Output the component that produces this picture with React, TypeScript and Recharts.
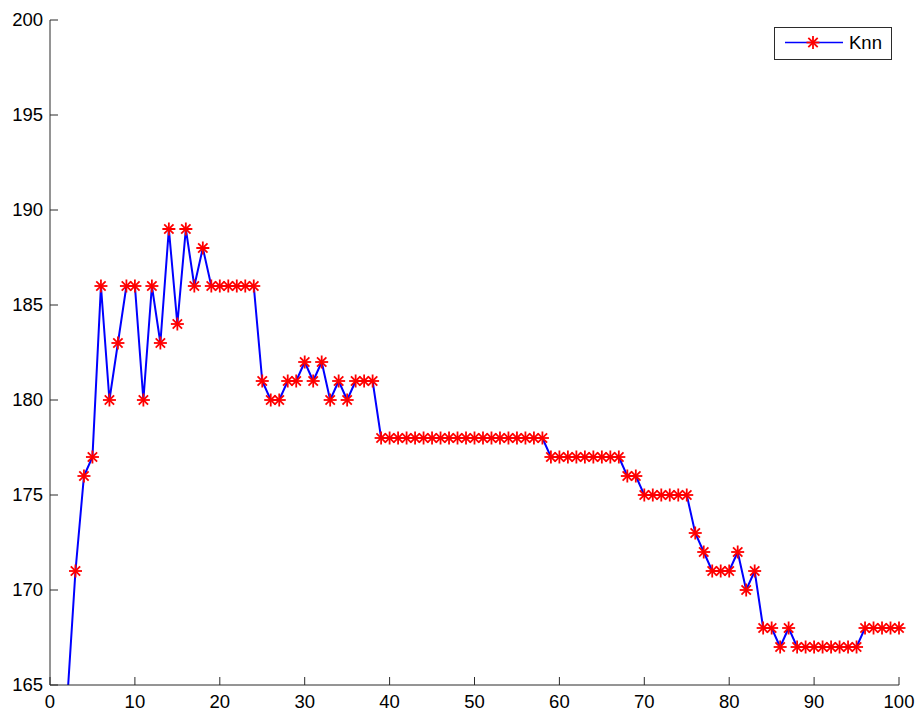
import { LineChart, Line, XAxis, YAxis } from 'recharts';

// k values (neighbours) and scores
const kValues = [
  2, 3, 4, 5, 6, 7, 8, 9, 10,
  11, 12, 13, 14, 15, 16, 17, 18, 19, 20,
  21, 22, 23, 24, 25, 26, 27, 28, 29, 30,
  31, 32, 33, 34, 35, 36, 37, 38, 39, 40,
  41, 42, 43, 44, 45, 46, 47, 48, 49, 50,
  51, 52, 53, 54, 55, 56, 57, 58, 59, 60,
  61, 62, 63, 64, 65, 66, 67, 68, 69, 70,
  71, 72, 73, 74, 75, 76, 77, 78, 79, 80,
  81, 82, 83, 84, 85, 86, 87, 88, 89, 90,
  91, 92, 93, 94, 95, 96, 97, 98, 99, 100,
];
const knnScores = [
  164, 171, 176, 177, 186, 180, 183, 186, 186,
  180, 186, 183, 189, 184, 189, 186, 188, 186, 186,
  186, 186, 186, 186, 181, 180, 180, 181, 181, 182,
  181, 182, 180, 181, 180, 181, 181, 181, 178, 178,
  178, 178, 178, 178, 178, 178, 178, 178, 178, 178,
  178, 178, 178, 178, 178, 178, 178, 178, 177, 177,
  177, 177, 177, 177, 177, 177, 177, 176, 176, 175,
  175, 175, 175, 175, 175, 173, 172, 171, 171, 171,
  172, 170, 171, 168, 168, 167, 168, 167, 167, 167,
  167, 167, 167, 167, 167, 168, 168, 168, 168, 168,
];
const xTicks = [0, 10, 20, 30, 40, 50, 60, 70, 80, 90, 100];
const yTicks = [165, 170, 175, 180, 185, 190, 195, 200];

const data = kValues.map((k, i) => ({ k, score: knnScores[i] }));

const FONT = '"Liberation Sans", Arial, sans-serif';
const AXIS = '#2b2b2b';

function Star({ cx, cy, r = 6.5 }: { cx: number; cy: number; r?: number }) {
  const d = r * 0.72;
  return (
    <g stroke="#ff0000" strokeWidth={1.8}>
      <line x1={cx - r} y1={cy} x2={cx + r} y2={cy} />
      <line x1={cx} y1={cy - r} x2={cx} y2={cy + r} />
      <line x1={cx - d} y1={cy - d} x2={cx + d} y2={cy + d} />
      <line x1={cx - d} y1={cy + d} x2={cx + d} y2={cy - d} />
    </g>
  );
}

const renderDot = (p: any) => {
  if (p.cx == null || p.cy == null) return <g key={p.index} />;
  return <Star key={p.index} cx={p.cx} cy={p.cy} />;
};

const YTick = (p: any) => (
  <g>
    <line x1={p.x + 7} y1={p.y} x2={p.x + 15} y2={p.y} stroke={AXIS} />
    <text x={p.x} y={p.y} dy="0.35em" textAnchor="end" fontSize={18.5} fontFamily={FONT} fill="#000">
      {p.payload.value}
    </text>
  </g>
);

const XTick = (p: any) => (
  <g>
    <line x1={p.x} y1={p.y - 10} x2={p.x} y2={p.y - 18} stroke={AXIS} />
    <text x={p.x} y={p.y} dy="0.71em" textAnchor="middle" fontSize={18.5} fontFamily={FONT} fill="#000">
      {p.payload.value}
    </text>
  </g>
);

const LegendBox = () => (
  <svg width={118} height={33} style={{ position: 'absolute', left: 774, top: 27 }}>
    <rect x={0.5} y={0.5} width={117} height={32} fill="#fff" stroke={AXIS} />
    <line x1={11} y1={15.5} x2={69} y2={15.5} stroke="#0000ff" strokeWidth={1.5} />
    <Star cx={39} cy={15.5} />
    <text x={75} y={15.5} dy="0.35em" fontSize={18.5} fontFamily={FONT} fill="#000">
      Knn
    </text>
  </svg>
);

export default function App() {
  return (
    <div style={{ position: 'absolute', left: 0, top: 0, width: 917, height: 713, background: '#fff' }}>
      <LineChart width={917} height={713} data={data} margin={{ top: 20, right: 18, left: 0, bottom: 0 }}>
        <XAxis
          dataKey="k"
          type="number"
          domain={[0, 100]}
          ticks={xTicks}
          height={28}
          stroke={AXIS}
          tickLine={false}
          tickSize={0}
          tickMargin={10}
          tick={XTick}
        />
        <YAxis
          type="number"
          domain={[165, 200]}
          ticks={yTicks}
          allowDataOverflow
          width={50}
          stroke={AXIS}
          tickLine={false}
          tickSize={0}
          tickMargin={7}
          tick={YTick}
        />
        <Line
          type="linear"
          dataKey="score"
          name="Knn"
          stroke="#0000ff"
          strokeWidth={2}
          dot={renderDot}
          activeDot={false}
          isAnimationActive={false}
        />
      </LineChart>
      <LegendBox />
    </div>
  );
}
